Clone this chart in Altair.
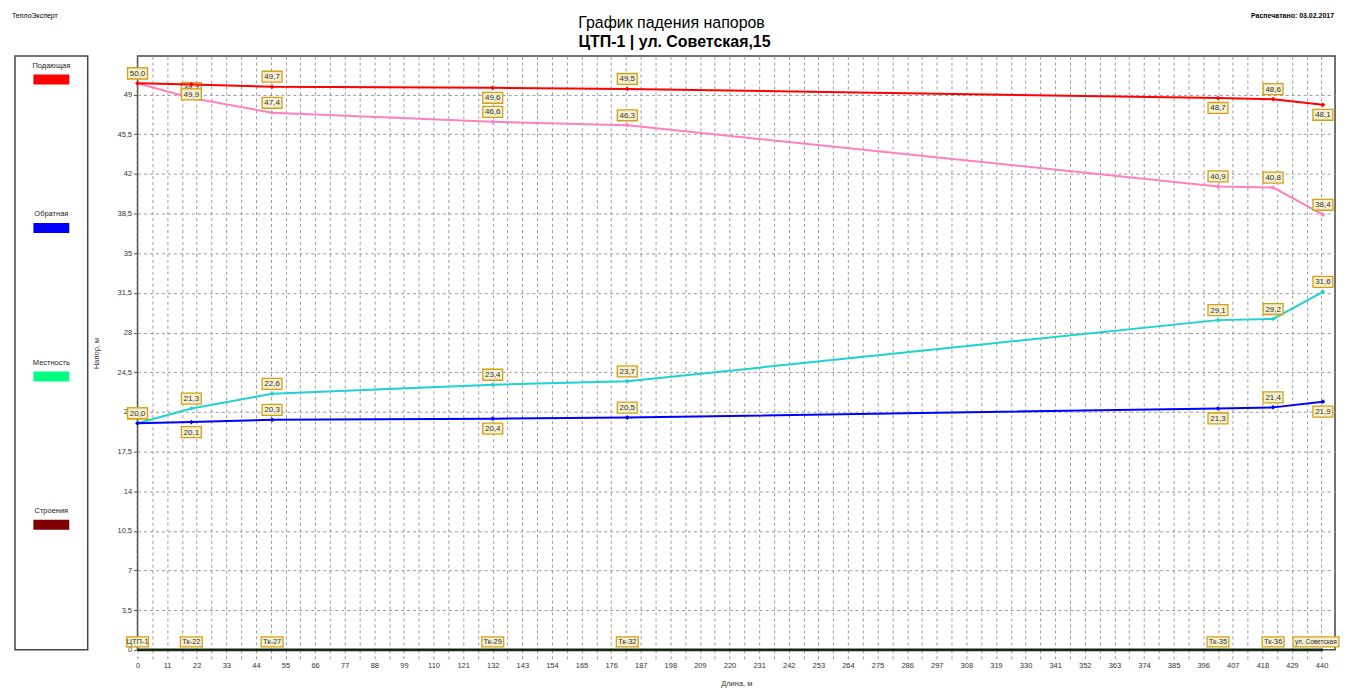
import altair as alt
import pandas as pd

# ---------------- data ----------------
nodes = ["ЦТП-1", "Тк-22", "Тк-27", "Тк-29", "Тк-32", "Тк-35", "Тк-36", "ул. Советская15"]
dist = [0, 20, 50, 132, 182, 401.5, 422, 440.5]
supply = [50.0, 49.9, 49.7, 49.6, 49.5, 48.7, 48.6, 48.1]          # red
supply_avail = [50.0, 48.7, 47.4, 46.6, 46.3, 40.9, 40.8, 38.4]    # pink
return_avail = [20.0, 21.3, 22.6, 23.4, 23.7, 29.1, 29.2, 31.6]    # cyan
ret = [20.0, 20.1, 20.3, 20.4, 20.5, 21.3, 21.4, 21.9]             # blue

legend_names = ["Подающая", "Обратная", "Местность", "Строения"]
legend_colors = ["#ff0000", "#0000ff", "#00ff80", "#800000"]

x_ticks = [5.5 * i for i in range(81)]
y_ticks = [3.5 * i for i in range(15)]

series_names = ["pink", "cyan", "red", "blue"]
series_colors = ["#ff80c0", "#1ed2d2", "#ff0000", "#0000ff"]

# ---------------- tables ----------------
def long_table(name, vals, alternate):
    rows = []
    for i, (d, v) in enumerate(zip(dist, vals)):
        rows.append({"series": name, "dist": d, "value": v,
                     "pos": ("down" if (alternate and i % 2 == 1) else "up")})
    return rows

rows_back = long_table("pink", supply_avail, False) + long_table("cyan", return_avail, False)
rows_front = long_table("red", supply, True) + long_table("blue", ret, True)
df_back = pd.DataFrame(rows_back)
df_front = pd.DataFrame(rows_front)
df_nodes = pd.DataFrame({"node": nodes, "dist": dist, "value": [0] * len(nodes)})
df_ground = pd.DataFrame({"dist": [dist[0]], "dist2": [dist[-1]], "value": [0]})
df_legend = pd.DataFrame({"name": legend_names, "color": legend_colors})

W, H = 1202, 596
FONT = "Liberation Sans"

xscale = alt.Scale(domain=[0, 445], nice=False, zero=False)
yscale = alt.Scale(domain=[0, 52.4], nice=False)

xaxis = alt.Axis(values=x_ticks, labelExpr="datum.value % 11 == 0 ? datum.label : ''",
                 grid=True, gridDash=[3, 3], gridColor="#9a9a9a", gridWidth=1,
                 ticks=True, tickDash=[3, 3], tickColor="#9a9a9a", tickSize=11,
                 labelFontSize=7.5, labelColor="#333", labelPadding=1,
                 labelFlush=False, labelOverlap=False, labelBound=False,
                 domain=False, title="Длина, м", titleFontSize=7.5,
                 titleFontWeight="normal", titleColor="#333", titlePadding=10)
yaxis = alt.Axis(values=y_ticks,
                 labelExpr="replace(datum.value % 1 == 0 ? format(datum.value, 'd') : format(datum.value, '.1f'), '.', ',')",
                 grid=True, gridDash=[3, 3], gridColor="#9a9a9a", gridWidth=1,
                 tickSize=4, tickColor="#555", labelFontSize=7.5, labelColor="#333",
                 labelPadding=2, labelOverlap=False, labelFlush=False, domain=False,
                 title="Напор, м", titleFontSize=7.5, titleFontWeight="normal",
                 titleColor="#333", titlePadding=17)

X = alt.X("dist:Q", scale=xscale, axis=xaxis)
Y = alt.Y("value:Q", scale=yscale, axis=yaxis)
color = alt.Color("series:N", scale=alt.Scale(domain=series_names, range=series_colors), legend=None)

label_text = "replace(format(datum.value, '.1f'), '.', ',')"
box_shape = "M-1,-0.55H1V0.55H-1Z"
node_shape = "M-1,-0.4545H1V0.4545H-1Z"
long_node_shape = "M-1,-0.2174H1V0.2174H-1Z"


def series_layers(df):
    base = alt.Chart(df).encode(x=X, y=Y)
    line = base.mark_line(strokeWidth=2).encode(color=color, detail="series:N")
    pts = base.mark_point(shape="diamond", filled=True, size=22, opacity=1).encode(color=color)
    return [line, pts]


def label_layers(df):
    out = []
    for pos, off in [("up", -10), ("down", 10)]:
        b = alt.Chart(df).transform_filter(f"datum.pos == '{pos}'").transform_calculate(
            lab=label_text).encode(x=X, y=Y)
        out.append(b.mark_point(shape=box_shape, size=400, filled=False, fill="#f4efcf",
                                fillOpacity=1, stroke="#d4a017", strokeWidth=1.3,
                                opacity=1, yOffset=off))
        out.append(b.mark_text(fontSize=8, color="#333", font=FONT, baseline="middle",
                               yOffset=off + 0.5).encode(text="lab:N"))
    return out


ground = alt.Chart(df_ground).mark_rule(color="#142814", strokeWidth=3).encode(
    x=X, x2="dist2:Q", y=Y)

node_base = alt.Chart(df_nodes).encode(x=X, y=Y)
node_box_short = node_base.transform_filter("length(datum.node) < 8").mark_point(
    shape=node_shape, size=484, filled=False, fill="#f4efcf", fillOpacity=1,
    stroke="#d4a017", strokeWidth=1.3, opacity=1, yOffset=-8)
node_text_short = node_base.transform_filter("length(datum.node) < 8").mark_text(
    fontSize=7.5, color="#333", font=FONT, baseline="middle", yOffset=-7.5).encode(text="node:N")
node_box_long = node_base.transform_filter("length(datum.node) >= 8").mark_point(
    shape=long_node_shape, size=2116, filled=False, fill="#f4efcf", fillOpacity=1,
    stroke="#d4a017", strokeWidth=1.3, opacity=1, yOffset=-8, xOffset=-7)
node_text_long = node_base.transform_filter("length(datum.node) >= 8").mark_text(
    fontSize=6.5, color="#333", font=FONT, baseline="middle", align="left",
    yOffset=-7.5, xOffset=-28, limit=46, ellipsis=" ").encode(text="node:N")

hdr = pd.DataFrame({"a": [0]})
title1 = alt.Chart(hdr).mark_text(text="График падения напоров", fontSize=16, font=FONT,
                                  color="#000", baseline="middle").encode(
    x=alt.value(536), y=alt.value(-33))
title2 = alt.Chart(hdr).mark_text(text="ЦТП-1 | ул. Советская,15", fontSize=16, font=FONT,
                                  fontWeight="bold", color="#000", baseline="middle").encode(
    x=alt.value(539), y=alt.value(-14))
printed = alt.Chart(hdr).mark_text(text="Распечатано: 03.02.2017", fontSize=7, font=FONT,
                                   fontWeight="bold", color="#000", align="right",
                                   baseline="middle").encode(
    x=alt.value(1201), y=alt.value(-40))

layers = ([ground] + series_layers(df_back) + label_layers(df_back)
          + series_layers(df_front) + label_layers(df_front)
          + [node_box_short, node_text_short, node_box_long, node_text_long,
             title1, title2, printed])
main = alt.layer(*layers).properties(width=W, height=H)

# ---------------- legend panel ----------------
lb = alt.Chart(df_legend).encode(
    y=alt.Y("name:N", sort=legend_names, axis=None, bandPosition=0,
            scale=alt.Scale(type="band", paddingInner=0, paddingOuter=0)),
    x=alt.value(36.5))
leg_text = lb.mark_text(fontSize=7.5, font=FONT, color="#222", baseline="middle",
                        yOffset=10).encode(text="name:N")
leg_rect = lb.mark_point(shape="M-1,-0.2778H1V0.2778H-1Z", size=1296, filled=True,
                         opacity=1, yOffset=23.5).encode(
    color=alt.Color("color:N", scale=None))
brand = alt.Chart(hdr).mark_text(text="ТеплоЭксперт", fontSize=7, font=FONT, color="#000",
                                 align="left", baseline="middle").encode(
    x=alt.value(-3), y=alt.value(-40))
legend = alt.layer(leg_rect, leg_text, brand).properties(width=73, height=H)

chart = alt.hconcat(legend, main, spacing=2).properties(
    padding={"left": 3, "top": 2, "right": 0, "bottom": 0}
).configure(font=FONT).configure_view(stroke="#444", strokeWidth=1.5)

chart.save("out.html", embed_options={"renderer": "svg", "actions": False})
